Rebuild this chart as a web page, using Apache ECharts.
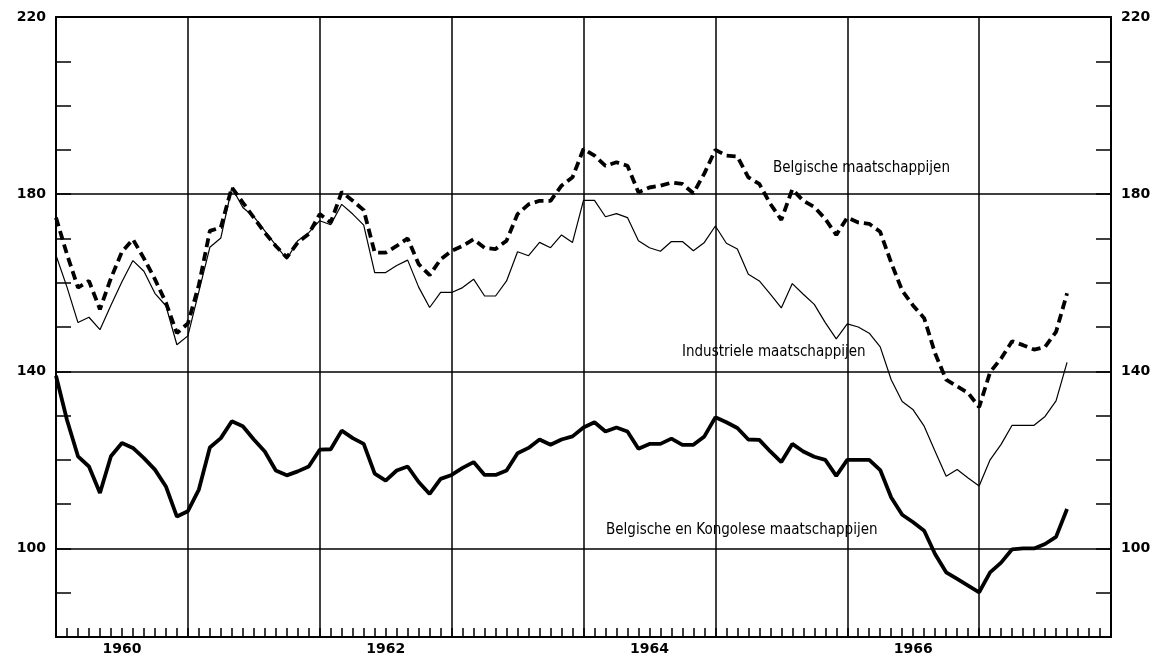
<!DOCTYPE html>
<html>
<head>
<meta charset="utf-8">
<script src="https://cdn.jsdelivr.net/npm/echarts@6.0.0/dist/echarts.min.js"></script>
<style>
html,body{margin:0;padding:0;background:#fff;}
#c{width:1159px;height:659px;}
</style>
</head>
<body>
<div id="c"></div>
<script>
// Monthly index values, Jan 1960 (month 0) .. Sep 1967 (month 92)
const belgische = [
 174.7,166.4,158.9,160.4,154,161,167,169.8,165.5,160.8,155.5,148.6,
 150.8,159.5,171.7,172.5,181.5,178.1,174.7,171.3,168.3,165.7,169.1,171,
 175.5,173.6,180.5,178.5,176.4,166.8,166.8,168.3,170,164.2,161.7,165.3,
 167.2,168.3,169.8,167.9,167.6,169.5,175.5,177.7,178.5,178.5,181.9,183.8,
 190.2,188.7,186.4,187.2,186.4,180.4,181.5,181.9,182.6,182.3,180.2,184.7,
 190,188.7,188.5,183.8,182.3,177.8,174.2,181.1,178.5,177.1,174.4,170.8,
 174.7,173.6,173.3,171.5,164.5,158.2,154.8,152,144,138.1,136.6,135.1,
 131.9,139.8,142.9,146.8,145.9,144.9,145.5,148.9,157.6
];
const industriele = [
 166.2,159,151,152.2,149.4,154.9,160.2,165,162.6,157.6,154.8,146,
 148,158,168,170.1,181.5,177,174.9,171.7,168.5,165.3,169.5,171.3,
 174,173.1,177.7,175.5,173,162.3,162.3,163.9,165.1,159,154.4,157.8,
 157.8,158.9,160.8,157,157,160.4,167,166.1,169.1,167.9,170.8,169.1,
 178.6,178.6,174.9,175.6,174.7,169.5,167.9,167.1,169.3,169.3,167.2,169.1,
 172.8,168.9,167.6,161.9,160.4,157.4,154.3,159.8,157.4,155.1,151,147.3,
 150.7,150,148.6,145.5,138.1,133.2,131.3,127.6,121.9,116.3,117.8,115.9,
 114.1,120,123.5,127.8,127.8,127.8,129.8,133.3,142
];
const kongolese = [
 139,129,120.8,118.5,112.5,120.8,123.8,122.7,120.4,117.8,114,107.2,
 108.4,113.3,122.8,124.9,128.7,127.6,124.6,121.9,117.6,116.5,117.4,118.5,
 122.3,122.4,126.6,124.9,123.6,116.9,115.3,117.6,118.5,115,112.3,115.7,
 116.6,118.2,119.5,116.6,116.6,117.6,121.5,122.7,124.6,123.4,124.6,125.3,
 127.3,128.5,126.4,127.3,126.4,122.5,123.6,123.6,124.8,123.4,123.4,125.3,
 129.6,128.5,127.2,124.6,124.5,121.9,119.5,123.6,121.9,120.7,120,116.4,
 120,120,120,117.7,111.5,107.6,105.9,104,98.7,94.6,93.1,91.6,
 90.1,94.6,96.8,99.8,100,100,101,102.6,108.9
];
const yearLabelMonths = [6, 30, 54, 78];
const yearLabelTexts = ['1960', '1962', '1964', '1966'];
const yTickLabels = [100, 140, 180, 220];
const hGridValues = [100, 140, 180];
const seriesNames = ['Belgische maatschappijen', 'Industriele maatschappijen', 'Belgische en Kongolese maatschappijen'];

const toPairs = arr => arr.map((v, i) => [i, v]);
const tickFont = {color:'#000', fontWeight:'bold', fontSize:14, fontFamily:'DejaVu Sans'};
const labelFont = '15px "DejaVu Sans Condensed", "DejaVu Sans", sans-serif';

const yAxisBase = pos => ({
  type:'value', min:80, max:220, interval:10, position:pos,
  axisLine:{show:true, onZero:false, lineStyle:{color:'#000', width:2}},
  axisTick:{show:true, inside:true, length:15, lineStyle:{color:'#000', width:1.5}},
  axisLabel:Object.assign({margin:10, formatter: v => yTickLabels.includes(v) ? String(v) : ''}, tickFont),
  splitLine:{show:false}
});

const chart = echarts.init(document.getElementById('c'));
chart.setOption({
  backgroundColor:'#fff',
  animation:false,
  grid:{left:56, right:48, top:17, bottom:22, containLabel:false, outerBoundsMode:'none'},
  xAxis:[
    {type:'value', min:0, max:96, interval:1, position:'bottom',
     axisLine:{show:true, onZero:false, lineStyle:{color:'#000', width:2}},
     axisTick:{show:true, inside:true, length:9, lineStyle:{color:'#000', width:1.5}},
     axisLabel:Object.assign({margin:5, showMinLabel:true, showMaxLabel:true,
       formatter: v => { const k = yearLabelMonths.indexOf(v); return k >= 0 ? yearLabelTexts[k] : ''; }}, tickFont),
     splitLine:{show:false}},
    {type:'value', min:0, max:96, interval:12, position:'top',
     axisLine:{show:true, onZero:false, lineStyle:{color:'#000', width:2}},
     axisTick:{show:false}, axisLabel:{show:false},
     splitLine:{show:true, lineStyle:{color:'#000', width:1.5}}}
  ],
  yAxis:[yAxisBase('left'), yAxisBase('right')],
  series:[
    {name:seriesNames[0], type:'line', xAxisIndex:0, yAxisIndex:0, data:toPairs(belgische),
     symbol:'none', lineStyle:{color:'#000', width:3.8, type:[9,5]}, z:5},
    {name:seriesNames[1], type:'line', xAxisIndex:0, yAxisIndex:0, data:toPairs(industriele),
     symbol:'none', lineStyle:{color:'#000', width:1.2}, z:5},
    {name:seriesNames[2], type:'line', xAxisIndex:0, yAxisIndex:0, data:toPairs(kongolese),
     symbol:'none', lineStyle:{color:'#000', width:3.8}, z:5,
     markLine:{silent:true, symbol:['none','none'], label:{show:false},
       lineStyle:{color:'#000', width:1.5, type:'solid'},
       data: hGridValues.map(v => ({yAxis:v}))}}
  ],
  graphic:[
    {type:'text', left:773, top:161, style:{text:seriesNames[0], font:labelFont, fill:'#000'}},
    {type:'text', left:682, top:345, style:{text:seriesNames[1], font:labelFont, fill:'#000'}},
    {type:'text', left:606, top:523, style:{text:seriesNames[2], font:labelFont, fill:'#000'}}
  ]
});
</script>
</body>
</html>
